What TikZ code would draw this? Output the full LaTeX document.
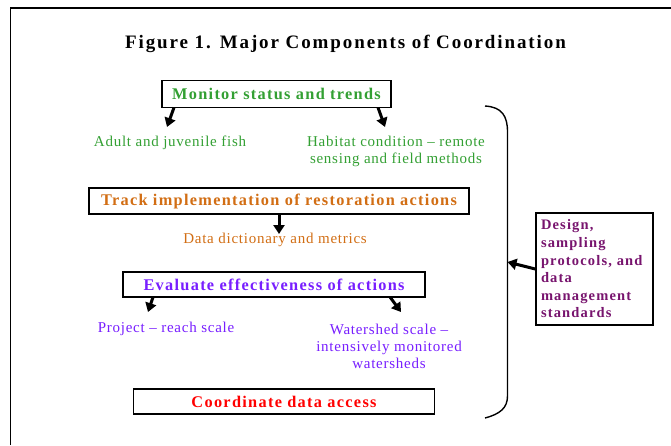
\documentclass[tikz,border=0pt]{standalone}
\usepackage{fontspec}
\setmainfont{Liberation Serif}
\newfontfamily\lsT[LetterSpace=10]{Liberation Serif}
\newfontfamily\lsB[LetterSpace=8]{Liberation Serif}
\newfontfamily\lsR[LetterSpace=5]{Liberation Serif}
\usetikzlibrary{arrows.meta}
\definecolor{cgreen}{RGB}{51,160,51}
\definecolor{corange}{RGB}{210,110,20}
\definecolor{cviolet}{RGB}{120,30,255}
\definecolor{cred}{RGB}{255,0,0}
\definecolor{cpurple}{RGB}{120,20,110}
\tikzset{
  box/.style={draw=black, line width=1.4pt, fill=white, inner sep=0pt,
    font=\lsB\bfseries\fontsize{16.3}{19}\selectfont},
  body/.style={inner sep=0pt, align=center,
    font=\lsR\fontsize{15}{17}\selectfont},
  arr/.style={line width=3pt, -{Triangle[width=11pt,length=9pt]}},
}
\begin{document}
\begin{tikzpicture}[x=1pt,y=-1pt]
\useasboundingbox (0,0) rectangle (671,445);
\fill[white] (0,0) rectangle (671,445);
% frame
\draw[line width=1.6pt] (10.5,445) -- (10.5,8) -- (671,8);
% title
\node[inner sep=0pt, font=\lsT\bfseries\fontsize{19}{22}\selectfont] (title) at (345.5,44) {Figure 1. Major Components of Coordination};
% boxes
\node[box, text=cgreen, minimum width=229pt, minimum height=27pt] (b1) at (276.5,94) {Monitor status and trends};
\node[box, text=corange, minimum width=380pt, minimum height=26pt] (b2) at (279,201) {Track implementation of restoration actions};
\node[box, text=cviolet, minimum width=302pt, minimum height=25pt] (b3) at (274,284.5) {Evaluate effectiveness of actions};
\node[box, text=cred, minimum width=301.5pt, minimum height=25pt] (b4) at (284,401.5) {Coordinate data access};
\node[box, text=cpurple, minimum width=117pt, minimum height=112pt, text width=107pt, align=left,
  font=\lsB\bfseries\fontsize{14.5}{17.6}\selectfont] (b5) at (594.5,269)
  {Design,\\sampling\\protocols, and\\data\\management\\standards};
% sub texts
\node[body, text=cgreen] (t1a) at (170,143) {Adult and juvenile fish};
\node[body, text=cgreen] (t1b) at (396,151.5) {Habitat condition – remote\\sensing and field methods};
\node[body, text=corange] (t2) at (275,240) {Data dictionary and metrics};
\node[body, text=cviolet] (t3a) at (166,329) {Project – reach scale};
\node[body, text=cviolet] (t3b) at (389,346) {Watershed scale –\\intensively monitored\\watersheds};
% arrows
\coordinate (a1s) at (174,107.5);
\coordinate (a1e) at (167,127);
\coordinate (a2s) at (378,107.5);
\coordinate (a2e) at (385,127);
\coordinate (a3s) at (279,214);
\coordinate (a3e) at (279,234);
\coordinate (a4s) at (153,297);
\coordinate (a4e) at (148,312);
\coordinate (a5s) at (390,297);
\coordinate (a5e) at (401,312);
\draw[arr] (a1s) -- (a1e);
\draw[arr] (a2s) -- (a2e);
\draw[arr] (a3s) -- (a3e);
\draw[arr] (a4s) -- (a4e);
\draw[arr] (a5s) -- (a5e);
% brace
\coordinate (brt) at (485,106);
\coordinate (brm) at (507.5,262);
\coordinate (brb) at (485,418);
\draw[line width=1.4pt] (brt) .. controls (502,107) and (507.5,116) .. (507.5,132)
  -- (507.5,396) .. controls (507.5,408) and (500,414) .. (brb);
\draw[arr] (b5.west) -- (brm);
\end{tikzpicture}
\end{document}
